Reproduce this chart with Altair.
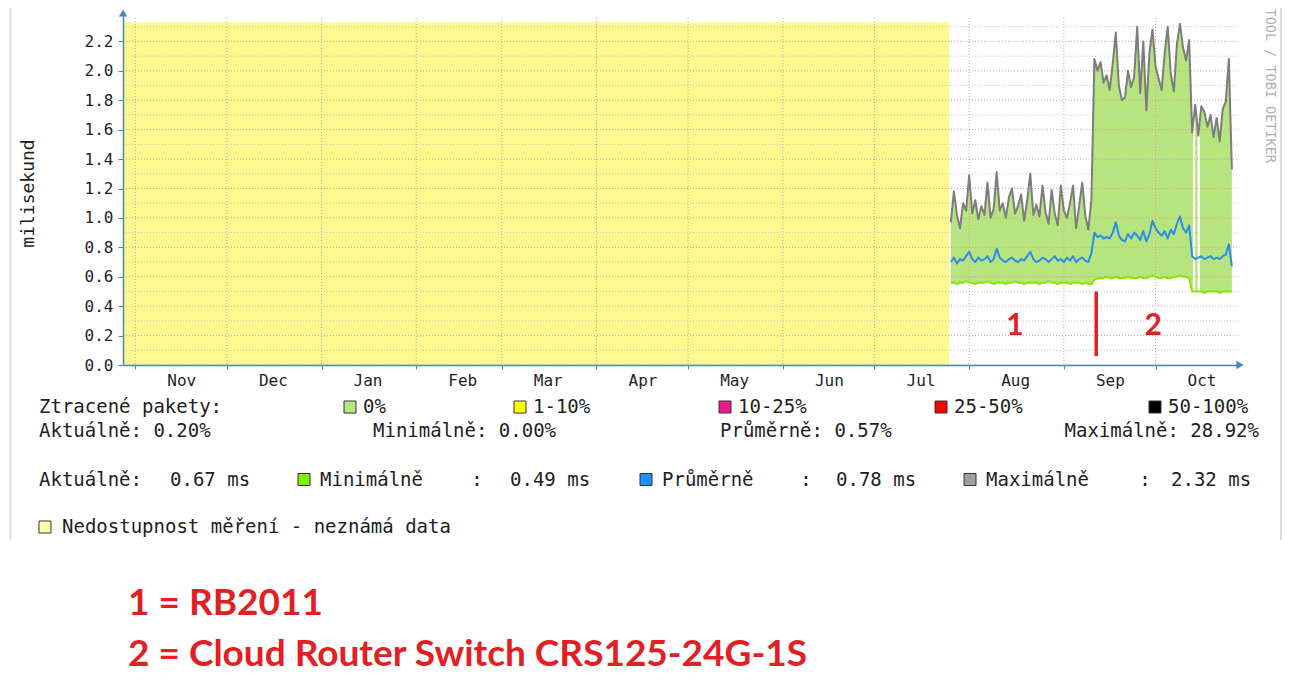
import altair as alt
import pandas as pd

# ---------------- data ----------------
# daily values, RB2011 period (26 Jul - 10 Sep)
max_rb2011 = [0.97, 1.18, 1.02, 0.93, 1.10, 1.05, 1.29, 1.03, 1.12, 0.99,
              1.08, 1.02, 1.24, 1.00, 1.06, 1.31, 1.05, 1.10, 1.00, 1.14,
              1.20, 1.03, 1.08, 1.16, 0.98, 1.12, 1.30, 1.02, 1.09, 1.01,
              1.22, 1.04, 0.96, 1.19, 1.03, 0.95, 1.22, 1.05, 1.00, 1.10,
              1.22, 0.93, 1.08, 1.24, 1.02, 0.92, 1.12]
avg_rb2011 = [0.70, 0.73, 0.69, 0.72, 0.71, 0.74, 0.77, 0.72, 0.70, 0.73,
              0.71, 0.72, 0.74, 0.70, 0.72, 0.79, 0.73, 0.71, 0.70, 0.72,
              0.73, 0.71, 0.70, 0.72, 0.71, 0.74, 0.77, 0.72, 0.70, 0.71,
              0.73, 0.72, 0.70, 0.72, 0.74, 0.71, 0.72, 0.70, 0.73, 0.71,
              0.74, 0.70, 0.72, 0.73, 0.71, 0.70, 0.76]
min_rb2011 = [0.56, 0.56, 0.55, 0.56, 0.56, 0.57, 0.56, 0.56, 0.55, 0.56,
              0.56, 0.56, 0.57, 0.56, 0.55, 0.56, 0.56, 0.56, 0.55, 0.56,
              0.56, 0.57, 0.56, 0.56, 0.55, 0.56, 0.56, 0.56, 0.56, 0.55,
              0.56, 0.56, 0.57, 0.56, 0.56, 0.55, 0.56, 0.56, 0.56, 0.55,
              0.56, 0.56, 0.56, 0.55, 0.56, 0.55, 0.55]
# CRS125 period (11 Sep - 12 Oct)
max_crs = [2.08, 2.00, 2.06, 1.92, 1.97, 1.87, 2.05, 2.26, 1.90, 1.80,
           1.82, 2.00, 1.89, 1.96, 2.30, 1.85, 2.20, 1.73, 2.12, 2.28,
           2.03, 1.95, 1.87, 2.12, 2.30, 1.98, 1.86, 2.18, 2.32, 2.16,
           2.07, 2.21]
avg_crs = [0.90, 0.87, 0.88, 0.86, 0.87, 0.86, 0.90, 0.97, 0.88, 0.85,
           0.84, 0.89, 0.86, 0.90, 0.88, 0.85, 0.91, 0.84, 0.89, 0.98,
           0.93, 0.90, 0.88, 0.91, 0.86, 0.92, 0.89, 0.96, 1.01, 0.93,
           0.90, 0.95]
min_crs = [0.58, 0.59, 0.59, 0.59, 0.60, 0.59, 0.59, 0.60, 0.59, 0.59,
           0.59, 0.60, 0.59, 0.59, 0.59, 0.60, 0.59, 0.59, 0.60, 0.61,
           0.60, 0.59, 0.59, 0.60, 0.59, 0.59, 0.60, 0.60, 0.61, 0.60,
           0.60, 0.59]
# last period (13 Oct - 26 Oct)
max_last = [1.58, 1.77, 1.56, 1.76, 1.72, 1.62, 1.70, 1.55, 1.68, 1.52, 1.74, 1.79, 2.08, 1.33]
avg_last = [0.74, 0.72, 0.73, 0.74, 0.72, 0.73, 0.74, 0.72, 0.73, 0.72, 0.74, 0.75, 0.82, 0.67]
min_last = [0.50, 0.50, 0.50, 0.50, 0.49, 0.50, 0.50, 0.50, 0.50, 0.49, 0.50, 0.50, 0.50, 0.50]

days = pd.date_range("2014-07-26", "2014-10-26", freq="D")
max_ms = max_rb2011 + max_crs + max_last
avg_ms = avg_rb2011 + avg_crs + avg_last
min_ms = min_rb2011 + min_crs + min_last
assert len(days) == len(max_ms) == len(avg_ms) == len(min_ms)

unknown_start = ["2013-10-28T00:00:00"]
unknown_end = ["2014-07-25T12:00:00"]
unknown_top = [2.33]

gap_start = ["2014-10-13T06:00:00", "2014-10-14T18:00:00"]
gap_end = ["2014-10-14T00:00:00", "2014-10-15T12:00:00"]

y_ticks = [0.0, 0.2, 0.4, 0.6, 0.8, 1.0, 1.2, 1.4, 1.6, 1.8, 2.0, 2.2]
y_minor = [0.1, 0.3, 0.5, 0.7, 0.9, 1.1, 1.3, 1.5, 1.7, 1.9, 2.1, 2.3]
month_starts = [(2013, 11), (2013, 12), (2014, 1), (2014, 2), (2014, 3), (2014, 4),
                (2014, 5), (2014, 6), (2014, 7), (2014, 8), (2014, 9), (2014, 10)]

ann_text = ["1", "2"]
ann_date = ["2014-08-16T00:00:00", "2014-09-30T05:00:00"]
ann_y = [0.265, 0.265]
split_date = ["2014-09-11T14:00:00"]
split_lo = [0.06]
split_hi = [0.50]

# ---------------- styling / layout ----------------
MONO = "DejaVu Sans Mono"
TEXT = "#1e1e1e"
AXIS = "#4a88b0"
YELLOW = "#fdf98f"
FILL = "#b6e57f"
MINC = "#88e600"
AVGC = "#2b8de6"
MAXC = "#7d7d7d"
GRID_MAJ = "#e49a9a"
GRID_MIN = "#c4c4c4"
RED = "#e31e24"
LEG = 19

PLOT_W, PLOT_H = 1115, 353
OX, OY = 123, 12

xs = alt.Scale(domain=[alt.DateTime(year=2013, month=10, date=28),
                       alt.DateTime(year=2014, month=10, date=28)])
ys = alt.Scale(domain=[0, 2.4], nice=False, zero=True)

xaxis = alt.Axis(values=[alt.DateTime(year=y, month=m, date=1) for y, m in month_starts],
                 format="%b", labelOffset=46, labelAlign="center", labelOverlap=False,
                 labelFlush=False, labelBound=False, grid=False, tickSize=4,
                 tickColor=AXIS, domainColor=AXIS, domainWidth=1.5, labelFont=MONO,
                 labelFontSize=16, labelColor=TEXT, labelPadding=3, title=None, zindex=1)
yaxis = alt.Axis(values=y_ticks, format=".1f", grid=False, tickSize=5, tickColor=AXIS,
                 domainColor=AXIS, domainWidth=1.5, labelFont=MONO, labelFontSize=16,
                 labelColor=TEXT, labelPadding=5, title="milisekund", titleFont=MONO,
                 titleFontSize=18, titleFontWeight="normal", titleColor=TEXT,
                 titleAngle=270, titleX=-95, titleY=181, titleAlign="center",
                 titleBaseline="middle", zindex=1)

series = pd.DataFrame({"date": days.strftime("%Y-%m-%dT%H:%M:%S"),
                       "min": min_ms, "avg": avg_ms, "max": max_ms})
unknown_df = pd.DataFrame({"start": unknown_start, "end": unknown_end,
                           "lo": [0.0], "hi": unknown_top})
gap_df = pd.DataFrame({"start": gap_start, "end": gap_end})
maj_df = pd.DataFrame({"v": y_ticks})
min_df = pd.DataFrame({"v": y_minor})
month_df = pd.DataFrame({"m": [f"{y}-{m:02d}-01T00:00:00" for y, m in month_starts]})
ann_df = pd.DataFrame({"t": ann_text, "date": ann_date, "y": ann_y})
split_df = pd.DataFrame({"date": split_date, "lo": split_lo, "hi": split_hi})

# the same axis definitions on every layer, so the shared axes merge cleanly
X = lambda f: alt.X(f, scale=xs, axis=xaxis)
Y = lambda f: alt.Y(f, scale=ys, axis=yaxis)

layers = []
layers.append(alt.Chart(unknown_df).mark_rect(color=YELLOW).encode(
    x=X("start:T"), x2="end:T", y=Y("lo:Q"), y2="hi:Q"))
layers.append(alt.Chart(series).mark_area(color=FILL, opacity=1).encode(
    x=X("date:T"), y=Y("min:Q"), y2="max:Q"))
layers.append(alt.Chart(gap_df).mark_rect(color="white").encode(
    x=X("start:T"), x2="end:T", y=alt.value(0), y2=alt.value(PLOT_H - 1)))
layers.append(alt.Chart(min_df).mark_rule(color=GRID_MIN, strokeDash=[1, 2]).encode(
    y=Y("v:Q"), x=alt.value(0), x2=alt.value(PLOT_W)))
layers.append(alt.Chart(maj_df).mark_rule(color=GRID_MAJ, strokeDash=[1, 2]).encode(
    y=Y("v:Q"), x=alt.value(0), x2=alt.value(PLOT_W)))
layers.append(alt.Chart(month_df).mark_rule(color=GRID_MAJ, strokeDash=[1, 2]).encode(
    x=X("m:T"), y=alt.value(6), y2=alt.value(PLOT_H)))
for col, c in (("min", MINC), ("avg", AVGC), ("max", MAXC)):
    layers.append(alt.Chart(series).mark_line(color=c, strokeWidth=2, strokeJoin="round").encode(
        x=X("date:T"), y=Y(f"{col}:Q")))
layers.append(alt.Chart(ann_df).mark_text(font="Lato", fontWeight="bold", fontSize=30,
                                         color=RED, baseline="middle", align="center").encode(
    x=X("date:T"), y=Y("y:Q"), text="t:N"))
layers.append(alt.Chart(split_df).mark_rule(color=RED, strokeWidth=3.5).encode(
    x=X("date:T"), y=Y("lo:Q"), y2="hi:Q"))

# axis arrows
layers.append(alt.Chart(alt.Data(values=[{}])).mark_point(
    shape="triangle-up", filled=True, size=70, color=AXIS, opacity=1).encode(
    x=alt.value(0), y=alt.value(1)))
layers.append(alt.Chart(alt.Data(values=[{}])).mark_point(
    shape="triangle-right", filled=True, size=70, color=AXIS, opacity=1).encode(
    x=alt.value(PLOT_W + 2), y=alt.value(PLOT_H)))


def page_text(s, px, py, size=LEG, font=MONO, color=TEXT, align="left",
              baseline="alphabetic", weight="normal", angle=0):
    return alt.Chart(alt.Data(values=[{"t": s}])).mark_text(
        align=align, baseline=baseline, font=font, fontSize=size, color=color,
        fontWeight=weight, angle=angle).encode(
        x=alt.value(px - OX), y=alt.value(py - OY), text="t:N")


def page_box(px, py, color, w=12, h=12):
    return alt.Chart(alt.Data(values=[{}])).mark_rect(
        fill=color, stroke="#333333", strokeWidth=1).encode(
        x=alt.value(px - OX), x2=alt.value(px - OX + w),
        y=alt.value(py - OY), y2=alt.value(py - OY + h))


def page_vline(px, y0, y1, color="#dddddd", w=2):
    return alt.Chart(alt.Data(values=[{}])).mark_rule(color=color, strokeWidth=w).encode(
        x=alt.value(px - OX), y=alt.value(y0 - OY), y2=alt.value(y1 - OY))


R1, R2, R3, R4 = 413, 436.5, 485.5, 533

loss_items = [("0%", 344, FILL), ("1-10%", 514, "#ffff00"), ("10-25%", 719, "#ee168f"),
              ("25-50%", 935, "#ff0000"), ("50-100%", 1149, "#000000")]
layers.append(page_text("Ztracené pakety:", 39, R1))
for lbl, px, c in loss_items:
    layers.append(page_box(px, R1 - 12, c))
    layers.append(page_text(lbl, px + 19, R1))

layers.append(page_text("Aktuálně: 0.20%", 39, R2))
layers.append(page_text("Minimálně: 0.00%", 373, R2))
layers.append(page_text("Průměrně: 0.57%", 720, R2))
layers.append(page_text("Maximálně: 28.92%", 1259, R2, align="right"))

layers.append(page_text("Aktuálně:", 39, R3))
layers.append(page_text("0.67 ms", 170, R3))
stat_items = [("Minimálně", "0.49 ms", 298, 477, 510, "#84f000"),
              ("Průměrně", "0.78 ms", 640, 806, 836, "#1e90ff"),
              ("Maximálně", "2.32 ms", 964, 1145, 1171, "#a0a0a0")]
for name, val, sx, colon_x, vx, c in stat_items:
    layers.append(page_box(sx, R3 - 12, c))
    layers.append(page_text(name, sx + 22, R3))
    layers.append(page_text(":", colon_x, R3, align="center"))
    layers.append(page_text(val, vx, R3))

layers.append(page_box(39, R4 - 12, "#ffffa8"))
layers.append(page_text("Nedostupnost měření - neznámá data", 62, R4))

# watermark (only its visible part, as in the cropped original)
layers.append(page_text("TOOL / TOBI OETIKER", 1270, 163, size=13.5, color="#b0b0b0",
                        align="right", baseline="middle", angle=90))
# frame of the embedded graph image
layers.append(page_vline(10.5, 0, 540))
layers.append(page_vline(1281, 0, 540))

# footnote annotations
layers.append(page_text("1 = RB2011", 128, 615, size=37, font="Lato", color=RED, weight="bold"))
layers.append(page_text("2 = Cloud Router Switch CRS125-24G-1S", 128, 666, size=37,
                        font="Lato", color=RED, weight="bold"))

chart = alt.layer(*layers).properties(
    width=PLOT_W, height=PLOT_H,
    autosize=alt.AutoSizeParams(type="none"),
    padding={"left": OX - 8, "top": OY - 8, "right": 1274 - (OX - 8) - PLOT_W,
             "bottom": 679 - (OY - 8) - PLOT_H},
    background="white",
).configure_view(stroke=None)

chart.save("out.html", embed_options={"renderer": "svg", "actions": False})
